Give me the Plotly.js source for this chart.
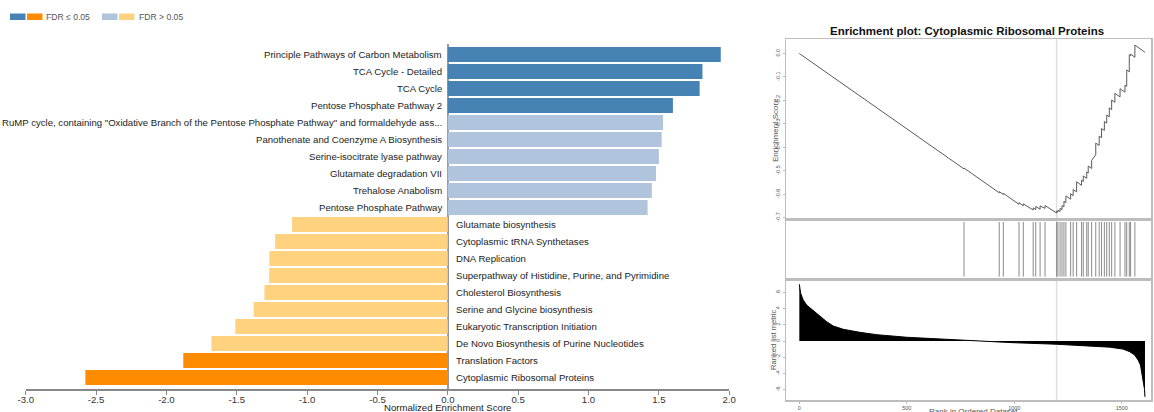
<!DOCTYPE html>
<html>
<head>
<meta charset="utf-8">
<script src="https://cdn.plot.ly/plotly-3.0.1.min.js"></script>
<style>
html, body { margin: 0; padding: 0; background: #fff; }
#chart { width: 1154px; height: 412px; }
</style>
</head>
<body>
<div id="chart"></div>
<script>
// ---------- Data: left bar chart ----------
const pathways = [
  "Principle Pathways of Carbon Metabolism",
  "TCA Cycle - Detailed",
  "TCA Cycle",
  "Pentose Phosphate Pathway 2",
  "RuMP cycle, containing \"Oxidative Branch of the Pentose Phosphate Pathway\" and formaldehyde ass...",
  "Panothenate and Coenzyme A Biosynthesis",
  "Serine-isocitrate lyase pathway",
  "Glutamate degradation VII",
  "Trehalose Anabolism",
  "Pentose Phosphate Pathway",
  "Glutamate biosynthesis",
  "Cytoplasmic tRNA Synthetases",
  "DNA Replication",
  "Superpathway of Histidine, Purine, and Pyrimidine",
  "Cholesterol Biosynthesis",
  "Serine and Glycine biosynthesis",
  "Eukaryotic Transcription Initiation",
  "De Novo Biosynthesis of Purine Nucleotides",
  "Translation Factors",
  "Cytoplasmic Ribosomal Proteins"
];
const nes = [1.94, 1.81, 1.79, 1.60, 1.53, 1.52, 1.50, 1.48, 1.45, 1.42,
             -1.107, -1.227, -1.268, -1.27, -1.303, -1.38, -1.51, -1.68, -1.88, -2.576];
const fdrSignificant = [true, true, true, true, false, false, false, false, false, false,
                        false, false, false, false, false, false, false, false, true, true];
const nesTicks = [-3.0, -2.5, -2.0, -1.5, -1.0, -0.5, 0.0, 0.5, 1.0, 1.5, 2.0];
const legendLabels = ["FDR \u2264 0.05", "FDR > 0.05"];

// ---------- Data: enrichment plot ----------
const esRank = [0, 766, 766, 930, 930, 949, 949, 1022, 1022, 1042, 1042, 1088, 1088, 1100, 1100,
  1120, 1120, 1143, 1143, 1197, 1197, 1203, 1203, 1213, 1213, 1222, 1222, 1231, 1231, 1240, 1240,
  1262, 1262, 1274, 1274, 1290, 1290, 1313, 1313, 1321, 1321, 1337, 1337, 1344, 1344, 1360, 1360,
  1379, 1379, 1395, 1395, 1406, 1406, 1419, 1419, 1430, 1430, 1442, 1442, 1453, 1453, 1468, 1468,
  1492, 1492, 1515, 1515, 1523, 1523, 1535, 1535, 1541, 1541, 1561, 1561, 1608];
const esScore = [0.0, -0.492, -0.488, -0.594, -0.589, -0.601, -0.596, -0.643, -0.636, -0.649, -0.641,
  -0.667, -0.658, -0.665, -0.652, -0.664, -0.650, -0.660, -0.648, -0.680, -0.672, -0.676, -0.668,
  -0.674, -0.660, -0.666, -0.648, -0.654, -0.630, -0.636, -0.607, -0.621, -0.598, -0.606, -0.580,
  -0.590, -0.547, -0.562, -0.540, -0.545, -0.522, -0.532, -0.505, -0.510, -0.480, -0.490, -0.455,
  -0.432, -0.382, -0.392, -0.352, -0.359, -0.320, -0.328, -0.290, -0.297, -0.262, -0.270, -0.232,
  -0.239, -0.198, -0.208, -0.170, -0.185, -0.150, -0.165, -0.135, -0.140, -0.070, -0.078, -0.005,
  -0.009, -0.003, -0.016, 0.036, 0.005];
const hitRanks = [766, 930, 949, 1022, 1042, 1088, 1100, 1120, 1143, 1197, 1203, 1213, 1222, 1231,
  1240, 1262, 1274, 1290, 1313, 1321, 1337, 1344, 1360, 1379, 1395, 1406, 1419, 1430, 1442, 1453,
  1468, 1492, 1515, 1523, 1535, 1541, 1561];
const metricRank = [0, 2, 6, 18, 34, 49, 65, 96, 127, 158, 205, 282, 360, 500, 670, 810, 996, 1197,
  1367, 1444, 1506, 1537, 1560, 1576, 1587, 1596, 1602, 1606, 1608];
const metricValue = [7.0, 6.6, 5.9, 5.06, 4.44, 4.11, 3.74, 3.0, 2.39, 1.85, 1.44, 1.07, 0.78, 0.46,
  0.21, 0.0, -0.21, -0.40, -0.60, -0.76, -1.0, -1.32, -1.73, -2.35, -2.96, -4.4, -5.2, -6.0, -6.9];
const peakRank = 1197;
const esTicks = [0.0, -0.1, -0.2, -0.3, -0.4, -0.5, -0.6, -0.7];
const metricTicks = [-6, -4, -2, 0, 2, 4, 6];
const rankTicks = [0, 500, 1000, 1500];
const enrichTitle = "Enrichment plot: Cytoplasmic Ribosomal Proteins";

// ---------- Layout helpers ----------
const W = 1154, H = 412;
const px = v => v / W;
const py = v => 1 - v / H;
const FONT = "Liberation Sans, Arial, sans-serif";

const C_SIG_POS = "#4682b4", C_NS_POS = "#b0c4de", C_SIG_NEG = "#ff8c00", C_NS_NEG = "#ffd280";
const barColors = nes.map((v, i) => v >= 0 ? (fdrSignificant[i] ? C_SIG_POS : C_NS_POS)
                                          : (fdrSignificant[i] ? C_SIG_NEG : C_NS_NEG));
const rowIdx = pathways.map((_, i) => i);

const traces = [
  {
    type: "bar", orientation: "h", x: nes, y: rowIdx, width: 0.88,
    marker: { color: barColors, line: { width: 0 } },
    xaxis: "x", yaxis: "y", hoverinfo: "skip", showlegend: false
  },
  {
    type: "scatter", mode: "lines", x: esRank, y: esScore,
    line: { color: "#5a5a5a", width: 1 }, xaxis: "x2", yaxis: "y2",
    hoverinfo: "skip", showlegend: false
  },
  {
    type: "scatter", mode: "lines",
    x: hitRanks.flatMap(h => [h, h, null]),
    y: hitRanks.flatMap(() => [0.04, 0.95, null]),
    line: { color: "#8a8a8a", width: 1 }, xaxis: "x3", yaxis: "y3",
    hoverinfo: "skip", showlegend: false
  },
  {
    type: "scatter", mode: "lines", x: metricRank, y: metricValue, fill: "tozeroy",
    fillcolor: "#000", line: { color: "#000", width: 1 }, xaxis: "x4", yaxis: "y4",
    hoverinfo: "skip", showlegend: false
  }
];

// label annotations for bars
const annotations = pathways.map((name, i) => ({
  x: 0, y: i, xref: "x", yref: "y", text: name, showarrow: false,
  xanchor: nes[i] >= 0 ? "right" : "left", yanchor: "middle",
  xshift: nes[i] >= 0 ? -4 : 6,
  font: { family: FONT, size: 9.6, color: "#222" }
}));
annotations.push({
  x: 0, xref: "x", y: py(407.5), yref: "paper", text: "Normalized Enrichment Score",
  showarrow: false, xanchor: "center", yanchor: "middle",
  font: { family: FONT, size: 9.6, color: "#222" }
});
// legend text
annotations.push({ x: px(44), y: py(17), xref: "paper", yref: "paper", text: legendLabels[0],
  showarrow: false, xanchor: "left", yanchor: "middle", font: { family: FONT, size: 8.6, color: "#555" } });
annotations.push({ x: px(137), y: py(17), xref: "paper", yref: "paper", text: legendLabels[1],
  showarrow: false, xanchor: "left", yanchor: "middle", font: { family: FONT, size: 8.6, color: "#555" } });
// right panel texts
annotations.push({ x: px(967), y: py(31), xref: "paper", yref: "paper", text: "<b>" + enrichTitle + "</b>",
  showarrow: false, xanchor: "center", yanchor: "middle", font: { family: FONT, size: 11.5, color: "#111" } });
annotations.push({ x: px(775), y: py(130), xref: "paper", yref: "paper", text: "Enrichment Score",
  showarrow: false, textangle: -90, xanchor: "center", yanchor: "middle", font: { family: FONT, size: 8, color: "#555" } });
annotations.push({ x: px(773), y: py(340), xref: "paper", yref: "paper", text: "Ranked list metric",
  showarrow: false, textangle: -90, xanchor: "center", yanchor: "middle", font: { family: FONT, size: 7.6, color: "#555" } });
annotations.push({ x: px(973), y: py(411), xref: "paper", yref: "paper", text: "Rank in Ordered Dataset",
  showarrow: false, xanchor: "center", yanchor: "middle", font: { family: FONT, size: 8, color: "#555" } });

const shapes = [
  { type: "rect", xref: "paper", yref: "paper", x0: px(10), x1: px(25.5), y0: py(20), y1: py(13.5), fillcolor: C_SIG_POS, line: { width: 0 } },
  { type: "rect", xref: "paper", yref: "paper", x0: px(27), x1: px(42.5), y0: py(20), y1: py(13.5), fillcolor: C_SIG_NEG, line: { width: 0 } },
  { type: "rect", xref: "paper", yref: "paper", x0: px(102), x1: px(117.5), y0: py(20), y1: py(13.5), fillcolor: C_NS_POS, line: { width: 0 } },
  { type: "rect", xref: "paper", yref: "paper", x0: px(119), x1: px(134.5), y0: py(20), y1: py(13.5), fillcolor: C_NS_NEG, line: { width: 0 } },
  { type: "line", xref: "x2", yref: "paper", x0: peakRank, x1: peakRank, y0: py(400), y1: py(39),
    line: { color: "#dedede", width: 1.5 }, layer: "below" }
];

const RX = [px(786), px(1151)];
const RANK_RANGE = [-62, 1636];
const frame = { showline: true, mirror: true, linecolor: "#bdbdbd", linewidth: 1.5, showgrid: false, zeroline: false };
const tinyFont = { family: FONT, size: 5.5, color: "#555" };

const layout = {
  width: W, height: H, autosize: false,
  margin: { l: 0, r: 0, t: 0, b: 0, pad: 0 },
  paper_bgcolor: "#fff", plot_bgcolor: "rgba(0,0,0,0)",
  showlegend: false,
  xaxis: {
    domain: [px(25.7), px(729.2)], anchor: "y", range: [-3, 2],
    tickvals: nesTicks, ticktext: nesTicks.map(v => v.toFixed(1)),
    ticks: "outside", ticklen: 4, tickcolor: "#888", tickwidth: 1,
    ticklabelstandoff: -3,
    showline: true, linecolor: "#888", linewidth: 1.5,
    showgrid: false, zeroline: true, zerolinecolor: "#999", zerolinewidth: 1.5,
    layer: "above traces",
    tickfont: { family: FONT, size: 9.6, color: "#333" }
  },
  yaxis: {
    domain: [py(389), py(44)], anchor: "x", range: [19.676, -0.618],
    showticklabels: false, ticks: "", showgrid: false, zeroline: false, showline: false
  },
  xaxis2: Object.assign({ domain: RX, anchor: "y2", range: RANK_RANGE, showticklabels: false, ticks: "" }, frame),
  yaxis2: Object.assign({
    domain: [py(219), py(39)], anchor: "x2", range: [-0.7055, 0.0618],
    tickvals: esTicks, ticktext: esTicks.map(v => v.toFixed(1)), tickangle: -90,
    ticks: "outside", ticklen: 2, tickcolor: "#bdbdbd", tickfont: tinyFont
  }, frame),
  xaxis3: Object.assign({ domain: RX, anchor: "y3", range: RANK_RANGE, showticklabels: false, ticks: "" }, frame),
  yaxis3: Object.assign({ domain: [py(279), py(219)], anchor: "x3", range: [0, 1], showticklabels: false, ticks: "" }, frame),
  xaxis4: Object.assign({
    domain: RX, anchor: "y4", range: RANK_RANGE, tickvals: rankTicks, ticktext: rankTicks.map(String),
    ticks: "outside", ticklen: 2, tickcolor: "#bdbdbd", tickfont: tinyFont
  }, frame),
  yaxis4: Object.assign({
    domain: [py(400), py(279)], anchor: "x4", range: [-7.28, 7.65],
    tickvals: metricTicks, ticktext: metricTicks.map(String), tickangle: -90,
    ticks: "outside", ticklen: 2, tickcolor: "#bdbdbd", tickfont: tinyFont
  }, frame),
  annotations: annotations,
  shapes: shapes
};

Plotly.newPlot("chart", traces, layout, { staticPlot: true, displayModeBar: false });
</script>
</body>
</html>
